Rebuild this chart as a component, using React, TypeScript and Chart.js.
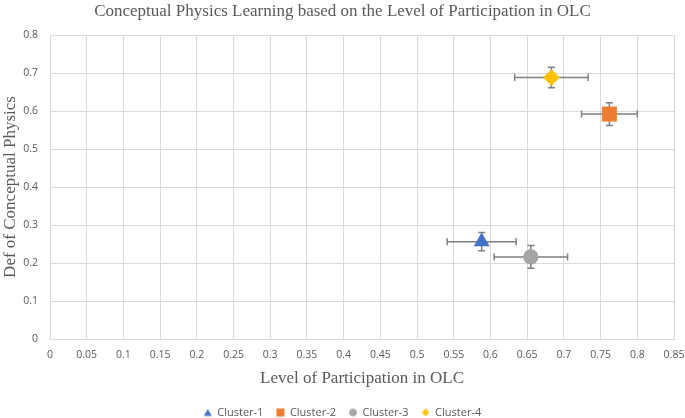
import { useEffect, useRef } from "react";
import { Chart, registerables } from "chart.js";

Chart.register(...registerables);

const chartTitle = "Conceptual Physics Learning based on the Level of Participation in OLC";
const xAxisTitle = "Level of Participation in OLC";
const yAxisTitle = "Def of Conceptual Physics";

const clusterNames = ["Cluster-1", "Cluster-2", "Cluster-3", "Cluster-4"];
const participation = [0.588, 0.762, 0.655, 0.683];
const conceptual = [0.256, 0.592, 0.216, 0.688];
const participationErr = [0.047, 0.038, 0.05, 0.05];
const conceptualErr = [0.024, 0.03, 0.03, 0.027];
const clusterColors = ["#4472C4", "#ED7D31", "#A5A5A5", "#FFC000"];
const clusterMarkers = ["triangle", "rect", "circle", "rectRot"];
const markerRadius = [9.2, 10.6, 7.6, 8.2];

const xTicks = [0, 0.05, 0.1, 0.15, 0.2, 0.25, 0.3, 0.35, 0.4, 0.45, 0.5, 0.55, 0.6, 0.65, 0.7, 0.75, 0.8, 0.85];
const xTickLabels = ["0", "0.05", "0.1", "0.15", "0.2", "0.25", "0.3", "0.35", "0.4", "0.45", "0.5", "0.55", "0.6", "0.65", "0.7", "0.75", "0.8", "0.85"];
const yTicks = [0, 0.1, 0.2, 0.3, 0.4, 0.5, 0.6, 0.7, 0.8];
const yTickLabels = ["0", "0.1", "0.2", "0.3", "0.4", "0.5", "0.6", "0.7", "0.8"];

const textGrey = "#595959";
const gridGrey = "#D9D9D9";
const errGrey = "#7F7F7F";
const serif = "'Liberation Serif', 'Times New Roman', serif";
const sans = "'Open Sans', sans-serif";

function makeIcon(style: string, color: string): HTMLCanvasElement {
  const c = document.createElement("canvas");
  c.width = 10;
  c.height = 10;
  const g = c.getContext("2d")!;
  g.fillStyle = color;
  g.beginPath();
  if (style === "triangle") {
    g.moveTo(5, 1.5);
    g.lineTo(9, 8.5);
    g.lineTo(1, 8.5);
    g.closePath();
  } else if (style === "rect") {
    g.rect(1, 1, 8, 8);
  } else if (style === "circle") {
    g.arc(5, 5, 3.8, 0, Math.PI * 2);
  } else {
    g.moveTo(5, 1);
    g.lineTo(8.6, 5);
    g.lineTo(5, 9);
    g.lineTo(1.4, 5);
    g.closePath();
  }
  g.fill();
  return c;
}

const errorBarPlugin = {
  id: "errorBars",
  beforeDatasetsDraw(chart: any) {
    const { ctx } = chart;
    const xs = chart.scales.x;
    const ys = chart.scales.y;
    const cap = 3.5;
    ctx.save();
    ctx.strokeStyle = errGrey;
    ctx.lineWidth = 1.5;
    participation.forEach((px, i) => {
      const py = conceptual[i];
      const cx = xs.getPixelForValue(px);
      const cy = ys.getPixelForValue(py);
      const x0 = xs.getPixelForValue(px - participationErr[i]);
      const x1 = xs.getPixelForValue(px + participationErr[i]);
      const y0 = ys.getPixelForValue(py - conceptualErr[i]);
      const y1 = ys.getPixelForValue(py + conceptualErr[i]);
      ctx.beginPath();
      ctx.moveTo(x0, cy);
      ctx.lineTo(x1, cy);
      ctx.moveTo(x0, cy - cap);
      ctx.lineTo(x0, cy + cap);
      ctx.moveTo(x1, cy - cap);
      ctx.lineTo(x1, cy + cap);
      ctx.moveTo(cx, y0);
      ctx.lineTo(cx, y1);
      ctx.moveTo(cx - cap, y0);
      ctx.lineTo(cx + cap, y0);
      ctx.moveTo(cx - cap, y1);
      ctx.lineTo(cx + cap, y1);
      ctx.stroke();
    });
    ctx.restore();
  },
};

export default function App() {
  const ref = useRef<HTMLCanvasElement | null>(null);

  useEffect(() => {
    if (!ref.current) return;
    const icons = clusterMarkers.map((m, i) => makeIcon(m, clusterColors[i]));
    const chart = new Chart(ref.current, {
      type: "scatter",
      data: {
        datasets: clusterNames.map((name, i) => ({
          label: name,
          data: [{ x: participation[i], y: conceptual[i] }],
          backgroundColor: clusterColors[i],
          borderColor: clusterColors[i],
          borderWidth: 0,
          pointStyle: clusterMarkers[i] as any,
          pointRadius: markerRadius[i],
          pointHoverRadius: markerRadius[i],
        })),
      },
      options: {
        animation: false,
        responsive: false,
        devicePixelRatio: 1,
        layout: { padding: { top: 0, left: 0, right: 0, bottom: -10 } },
        plugins: {
          tooltip: { enabled: false },
          title: {
            display: true,
            text: chartTitle,
            color: textGrey,
            font: { family: serif, size: 17, weight: "normal" as any, lineHeight: 1.2 },
            padding: { top: 1.8, bottom: 12.8 },
          },
          legend: {
            display: true,
            position: "bottom",
            labels: {
              color: textGrey,
              font: { family: sans, size: 11 },
              usePointStyle: true,
              boxWidth: 8,
              boxHeight: 8,
              padding: 13,
              generateLabels: (ch: any) =>
                ch.data.datasets.map((ds: any, i: number) => ({
                  text: ds.label,
                  fillStyle: ds.backgroundColor,
                  strokeStyle: ds.backgroundColor,
                  lineWidth: 0,
                  pointStyle: icons[i],
                  datasetIndex: i,
                  hidden: false,
                  fontColor: textGrey,
                })),
            },
          },
        },
        scales: {
          x: {
            type: "linear",
            min: 0,
            max: 0.85,
            afterBuildTicks: (s: any) => {
              s.ticks = xTicks.map((v) => ({ value: v }));
            },
            afterFit: (s: any) => {
              s.height = 55;
              s.paddingLeft = 0;
              s.paddingRight = 11;
            },
            ticks: {
              color: textGrey,
              font: { family: sans, size: 10.5 },
              padding: 10,
              maxRotation: 0,
              autoSkip: false,
              callback: (_v: any, idx: number) => xTickLabels[idx],
            },
            grid: { color: gridGrey, lineWidth: 1, drawTicks: false },
            border: { color: gridGrey, width: 1 },
            title: {
              display: true,
              text: xAxisTitle,
              color: textGrey,
              font: { family: serif, size: 17, lineHeight: 1.2 },
              padding: { top: 0, bottom: 4.8 },
            },
          },
          y: {
            type: "linear",
            min: 0,
            max: 0.8,
            afterBuildTicks: (s: any) => {
              s.ticks = yTicks.map((v) => ({ value: v }));
            },
            afterFit: (s: any) => {
              s.width = 50;
            },
            ticks: {
              color: textGrey,
              font: { family: sans, size: 10.5 },
              padding: 12,
              autoSkip: false,
              callback: (_v: any, idx: number) => yTickLabels[idx],
            },
            grid: { color: gridGrey, lineWidth: 1, drawTicks: false },
            border: { color: gridGrey, width: 1 },
            title: {
              display: true,
              text: yAxisTitle,
              color: textGrey,
              font: { family: serif, size: 17, lineHeight: 1.2 },
              padding: { top: 0, bottom: 0 },
            },
          },
        },
      },
      plugins: [errorBarPlugin],
    } as any);
    return () => chart.destroy();
  }, []);

  return (
    <div style={{ position: "fixed", left: 0, top: 0, width: 685, height: 418, background: "#fff" }}>
      <canvas ref={ref} width={685} height={418} style={{ display: "block" }} />
    </div>
  );
}
